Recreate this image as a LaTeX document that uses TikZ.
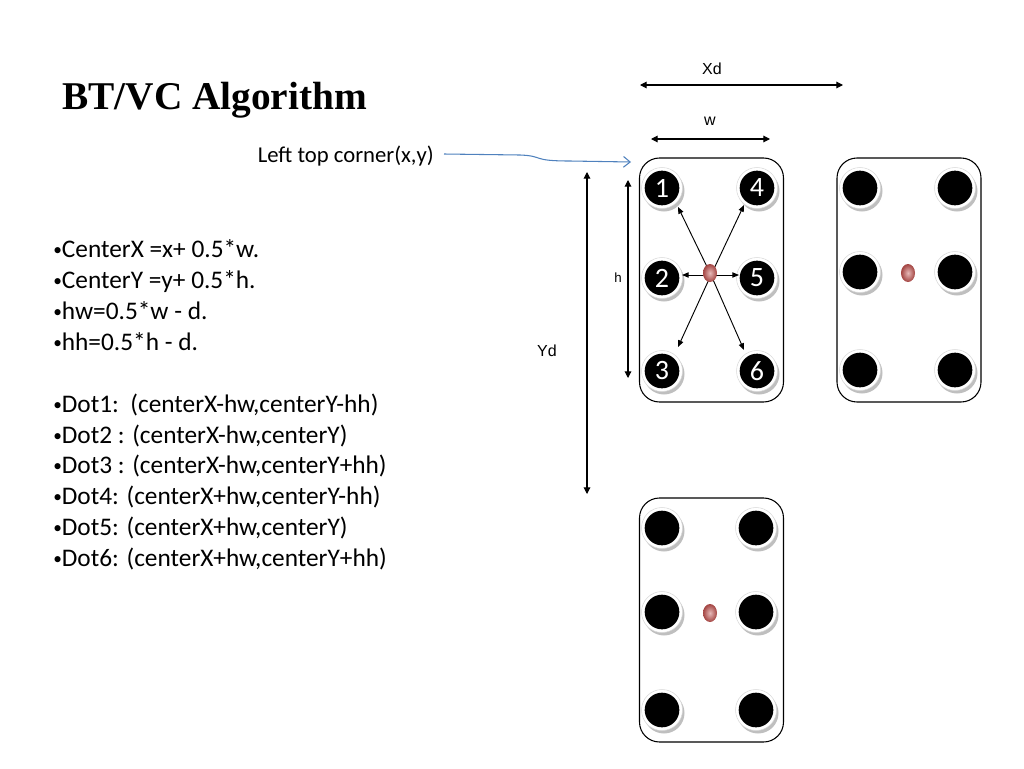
\documentclass[tikz,border=0pt]{standalone}
\usepackage{fontspec}
\setmainfont{Carlito}
\newfontfamily\titlefont{Liberation Serif}
\newfontfamily\labfont{Liberation Sans}
\usetikzlibrary{arrows.meta}
\definecolor{linkblue}{RGB}{79,129,189}
\definecolor{reddot}{RGB}{192,80,77}
\tikzset{
  card/.style={draw=black, line width=0.8pt, rounded corners=15pt},
  dimarrow/.style={line width=0.8pt, {Triangle[length=5pt,width=5pt]}-{Triangle[length=5pt,width=5pt]}},
  vecarrow/.style={line width=0.7pt, -{Triangle[length=5pt,width=4pt]}},
  diml/.style={font=\labfont\fontsize{12}{14}\selectfont, inner sep=0pt},
  numtxt/.style={text=white, font=\fontsize{21}{23}\selectfont},
  listline/.style={anchor=base west, inner sep=0pt, font=\fontsize{19}{22}\selectfont}
}
\newcommand{\bul}{\raisebox{0.12ex}{\fontsize{13}{13}\selectfont •}}
\newcommand{\hole}[3]{%
  \fill[black!25] (#1+2,#2+3) circle (20.5);
  \fill[white] (#1,#2) circle (20.5);
  \draw[black!15, line width=0.4pt] (#1,#2) circle (20.5);
  \node[circle, fill=black, minimum size=26pt, inner sep=0pt, numtxt] (#3) at (#1,#2) {};
}
\newcommand{\redd}[3]{%
  \shade[inner color=reddot!40!white, outer color=reddot!85!black] (#1-1,#2-2) ellipse (7 and 9);
  \coordinate (#3) at (#1,#2);
}
\begin{document}
\begin{tikzpicture}[x=0.75pt,y=-0.75pt]
\useasboundingbox (0,0) rectangle (1024,768);
% title
\node[anchor=base west, inner sep=0pt, font=\titlefont\bfseries\fontsize{29.5}{32}\selectfont] (title) at (62,109) {BT/VC Algorithm};
% bullet text
\node[listline] (l1) at (53,257) {\bul CenterX =x+ 0.5*w.};
\node[listline] (l2) at (53,288) {\bul CenterY =y+ 0.5*h.};
\node[listline] (l3) at (53,319) {\bul hw=0.5*w - d.};
\node[listline] (l4) at (53,350) {\bul hh=0.5*h - d.};
\node[listline] (l5) at (53,412) {\bul Dot1:\ \ (centerX-hw,centerY-hh)};
\node[listline] (l6) at (53,443) {\bul Dot2 : (centerX-hw,centerY)};
\node[listline] (l7) at (53,473) {\bul Dot3 : (centerX-hw,centerY+hh)};
\node[listline] (l8) at (53,504) {\bul Dot4: (centerX+hw,centerY-hh)};
\node[listline] (l9) at (53,535) {\bul Dot5: (centerX+hw,centerY)};
\node[listline] (l10) at (53,566) {\bul Dot6: (centerX+hw,centerY+hh)};
% left top corner label
\node[anchor=base east, inner sep=0pt, font=\fontsize{17}{20}\selectfont] (ltc) at (434,162) {Left top corner(x,y)};
\coordinate (ltcstart) at (444,154);
\coordinate (ltcend) at (631,162);
\draw[linkblue, line width=0.8pt, -{Straight Barb[length=5pt,width=8pt]}] (ltcstart) -- (520,155) .. controls (545,156) and (530,161) .. (570,161) -- (ltcend);
% cards
\node[card, minimum width=108pt, minimum height=183pt, inner sep=0pt] (c1) at (711.5,280) {};
\node[card, minimum width=108pt, minimum height=183pt, inner sep=0pt] (c2) at (909,280) {};
\node[card, minimum width=108pt, minimum height=183pt, inner sep=0pt] (c3) at (711.5,620) {};
% card 1
\hole{662}{188}{d1}\hole{662}{278}{d2}\hole{662}{371}{d3}
\hole{757}{188}{d4}\hole{757}{278}{d5}\hole{757}{371}{d6}
\node[numtxt] at (d1) {1};\node[numtxt] at (d2) {2};\node[numtxt] at (d3) {3};
\node[numtxt] at (d4) {4};\node[numtxt] at (d5) {5};\node[numtxt] at (d6) {6};
\coordinate (r1) at (711,275);
\coordinate (t1) at (678,207);\coordinate (t4) at (744,205);
\coordinate (t2) at (682,275);\coordinate (t5) at (739,275);
\coordinate (t3) at (678,347);\coordinate (t6) at (744,350);
\draw[vecarrow] (r1) -- (t1);\draw[vecarrow] (r1) -- (t4);
\draw[vecarrow] (r1) -- (t2);\draw[vecarrow] (r1) -- (t5);
\draw[vecarrow] (r1) -- (t3);\draw[vecarrow] (r1) -- (t6);
\redd{711}{275}{r1b}
% card 2
\hole{860}{188}{e1}\hole{860}{272}{e2}\hole{860}{370}{e3}
\hole{955}{188}{e4}\hole{955}{272}{e5}\hole{955}{370}{e6}
\redd{909}{275}{r2}
% card 3
\hole{662}{528}{f1}\hole{662}{612}{f2}\hole{662}{710}{f3}
\hole{756}{528}{f4}\hole{756}{612}{f5}\hole{756}{710}{f6}
\redd{711}{615}{r3}
% dimensions
\coordinate (xda) at (640,85);\coordinate (xdb) at (843,85);
\draw[dimarrow] (xda) -- (xdb);
\node[diml] (xdl) at (712,69) {Xd};
\coordinate (wa) at (651,139);\coordinate (wb) at (770,139);
\draw[dimarrow] (wa) -- (wb);
\node[diml] (wl) at (710,121) {w};
\coordinate (ha) at (628,180);\coordinate (hb) at (628,378);
\draw[dimarrow] (ha) -- (hb);
\node[diml, font=\labfont\fontsize{10}{12}\selectfont] (hl) at (618,278) {h};
\coordinate (yda) at (587,172);\coordinate (ydb) at (587,494);
\draw[dimarrow] (yda) -- (ydb);
\node[diml] (ydl) at (547,351) {Yd};
\end{tikzpicture}
\end{document}
